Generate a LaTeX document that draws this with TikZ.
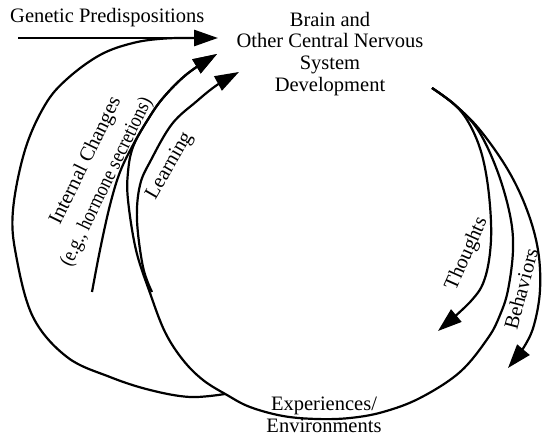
\documentclass[tikz,border=0pt]{standalone}
\usepackage{fontspec}
\setmainfont{Liberation Serif}
\newfontfamily\narrowserif[FakeStretch=0.87]{Liberation Serif}
\usetikzlibrary{arrows.meta}
\begin{document}
\begin{tikzpicture}[x=1pt,y=-1pt,
  lbl/.style={font=\fontsize{20.5}{21.7}\selectfont, inner sep=0pt, align=center},
  conn/.style={line width=2.2pt},
  tip/.style={-{Triangle[length=24pt,width=16pt]}}]
\useasboundingbox (0,0) rectangle (546,438);
% labels
\node[lbl, anchor=base west] (gen) at (10,23) {Genetic Predispositions};
\node[lbl] (brain) at (330,53.7) {Brain and\\Other Central Nervous\\System\\Development};
\node[lbl] (exp) at (324,415) {Experiences/\\Environments};
\node[lbl, rotate=64] (int1) at (86,161) {Internal Changes};
\node[lbl, rotate=64, font=\narrowserif\fontsize{20.5}{21.7}\selectfont] (int2) at (107,182) {(e.g., hormone secretions)};
\node[lbl, rotate=60] (learn) at (170,166) {Learning};
\node[lbl, rotate=66] (thought) at (467,254) {Thoughts};
\node[lbl, rotate=75] (behav) at (521,289) {Behaviors};
% anchor points
\coordinate (gs) at (18,38);
\coordinate (ge) at (218,38);
% genetic arrow
\draw[line width=2.8pt, tip] (gs) -- (ge);
% outer loop from experiences to brain
\draw[conn] plot[smooth, tension=0.6] coordinates {(225,394) (190,397) (150,390) (110,377) (67,357) (33,317) (16,255) (13,210) (25,150) (45,105) (67,79) (100,55) (133,43) (165,38.5) (200,38)};
% internal changes
\draw[conn, tip] plot[smooth, tension=0.6] coordinates {(92,292) (100,250) (110,205) (120,172) (133,145) (147,121) (163,98) (187,74) (217,54)};
% big circle
\draw[conn, tip] plot[smooth, tension=0.6] coordinates {(432,88) (455,105) (478,130) (497,170) (510,215) (513,250) (508,290) (500,315) (488,338) (460,372) (420,398) (383,412) (350,418) (317,419) (283,416) (250,407) (227,395) (203,380) (183,360) (165,332) (150,293) (136,250) (128,200) (128,172) (133,147) (147,121) (163,98) (187,74) (217,54)};
% learning
\draw[conn, tip] plot[smooth, tension=0.6] coordinates {(152,292) (143,267) (137,220) (140,185) (151,160) (172,124) (197,101) (217,85) (239,72)};
% thoughts
\draw[conn, tip] plot[smooth, tension=0.6] coordinates {(432,88) (455,105) (470,125) (482,155) (489,195) (491,240) (485,278) (471,301) (438,331)};
% behaviors
\draw[conn, tip] plot[smooth, tension=0.6] coordinates {(432,88) (455,105) (480,130) (508,170) (527,210) (538,250) (540,290) (534,325) (524,347) (508,368)};
\end{tikzpicture}
\end{document}
